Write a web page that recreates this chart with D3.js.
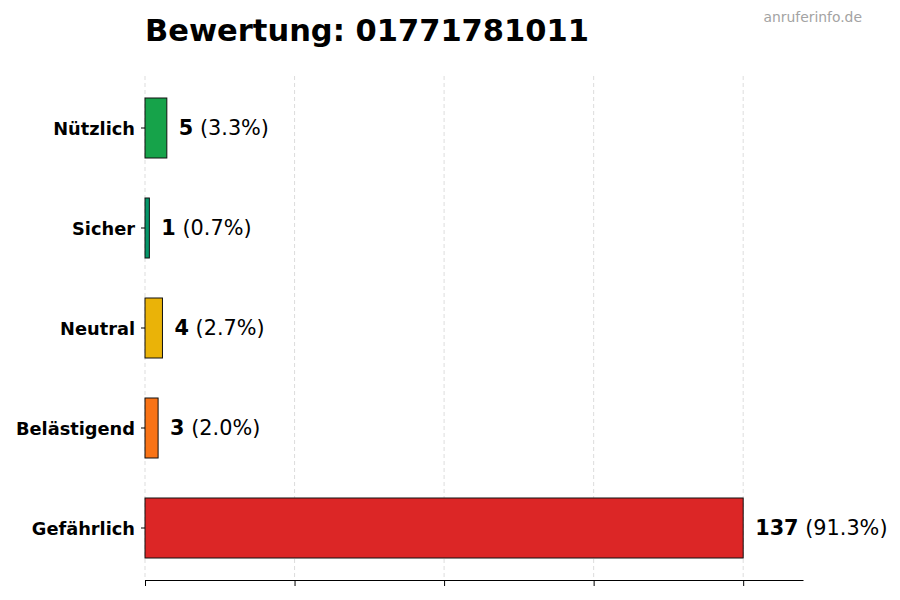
<!DOCTYPE html>
<html>
<head>
<meta charset="utf-8">
<script src="https://cdn.jsdelivr.net/npm/d3@7"></script>
<style>
  body { margin: 0; background: #fff; }
  svg { font-family: "DejaVu Sans", sans-serif; }
</style>
</head>
<body>
<div id="chart"></div>
<script>
// Daten der Bewertungen
const categories = ["Nützlich", "Sicher", "Neutral", "Belästigend", "Gefährlich"];
const counts = [5, 1, 4, 3, 137];
const barColors = ["#16a34a", "#059669", "#eab308", "#f97316", "#dc2626"];
const titleText = "Bewertung: 01771781011";
const sourceText = "anruferinfo.de";

const width = 900;
const height = 600;
const margin = { top: 76, left: 145, bottom: 20, right: 97 };

const total = d3.sum(counts);
const maxVal = d3.max(counts);
const rows = categories.map((c, i) => ({ cat: c, val: counts[i], color: barColors[i] }));

const svg = d3
  .select("#chart")
  .append("svg")
  .attr("width", width)
  .attr("height", height);

const x = d3
  .scaleLinear()
  .domain([0, maxVal * 1.1])
  .range([margin.left, width - margin.right]);

const y = d3
  .scaleBand()
  .domain(categories)
  .range([78, 578])
  .paddingInner(0.4)
  .paddingOuter(0.2);

const axisY = height - margin.bottom;
const tickVals = [0, 0.25, 0.5, 0.75, 1].map((f) => maxVal * f);

// Gitterlinien (gestrichelt)
svg
  .append("g")
  .selectAll("line")
  .data(tickVals)
  .enter()
  .append("line")
  .attr("x1", (d) => x(d))
  .attr("x2", (d) => x(d))
  .attr("y1", margin.top)
  .attr("y2", axisY)
  .attr("stroke", "#d4d4d4")
  .attr("stroke-width", 0.8)
  .attr("stroke-dasharray", "4,3");

// Balken
svg
  .append("g")
  .selectAll("rect")
  .data(rows)
  .enter()
  .append("rect")
  .attr("x", x(0))
  .attr("y", (d) => y(d.cat))
  .attr("width", (d) => x(d.val) - x(0))
  .attr("height", y.bandwidth())
  .attr("fill", (d) => d.color)
  .attr("stroke", "#111")
  .attr("stroke-width", 1);

// X-Achse ohne Beschriftung
const xAxis = svg
  .append("g")
  .attr("transform", `translate(0, ${axisY})`)
  .call(d3.axisBottom(x).tickValues(tickVals).tickFormat("").tickSize(6).tickSizeOuter(0));
xAxis.select(".domain").attr("stroke", "#000");
xAxis.selectAll(".tick line").attr("stroke", "#000");

// Y-Achse: nur Ticks und Labels
const yAxis = svg
  .append("g")
  .attr("transform", `translate(${margin.left}, 0)`)
  .call(d3.axisLeft(y).tickSize(4).tickPadding(6));
yAxis.select(".domain").remove();
yAxis
  .selectAll("text")
  .attr("dy", "0.42em")
  .style("font-family", "DejaVu Sans, sans-serif")
  .style("font-size", "17.8px")
  .style("font-weight", "bold")
  .attr("fill", "#000");

// Wertbeschriftung
const labels = svg
  .append("g")
  .selectAll("text")
  .data(rows)
  .enter()
  .append("text")
  .attr("x", (d) => x(d.val) + 12)
  .attr("y", (d) => y(d.cat) + y.bandwidth() / 2)
  .attr("dy", "0.35em")
  .style("font-size", "20.8px")
  .attr("fill", "#000");
labels
  .append("tspan")
  .style("font-weight", "bold")
  .text((d) => d.val);
labels
  .append("tspan")
  .text((d) => ` (${((d.val / total) * 100).toFixed(1)}%)`);

// Titel
svg
  .append("text")
  .attr("x", margin.left)
  .attr("y", 41)
  .style("font-size", "30.5px")
  .style("font-weight", "bold")
  .attr("fill", "#000")
  .text(titleText);

// Quelle
svg
  .append("text")
  .attr("x", 862)
  .attr("y", 22)
  .attr("text-anchor", "end")
  .style("font-size", "13.9px")
  .attr("fill", "#a3a3a3")
  .text(sourceText);
</script>
</body>
</html>
